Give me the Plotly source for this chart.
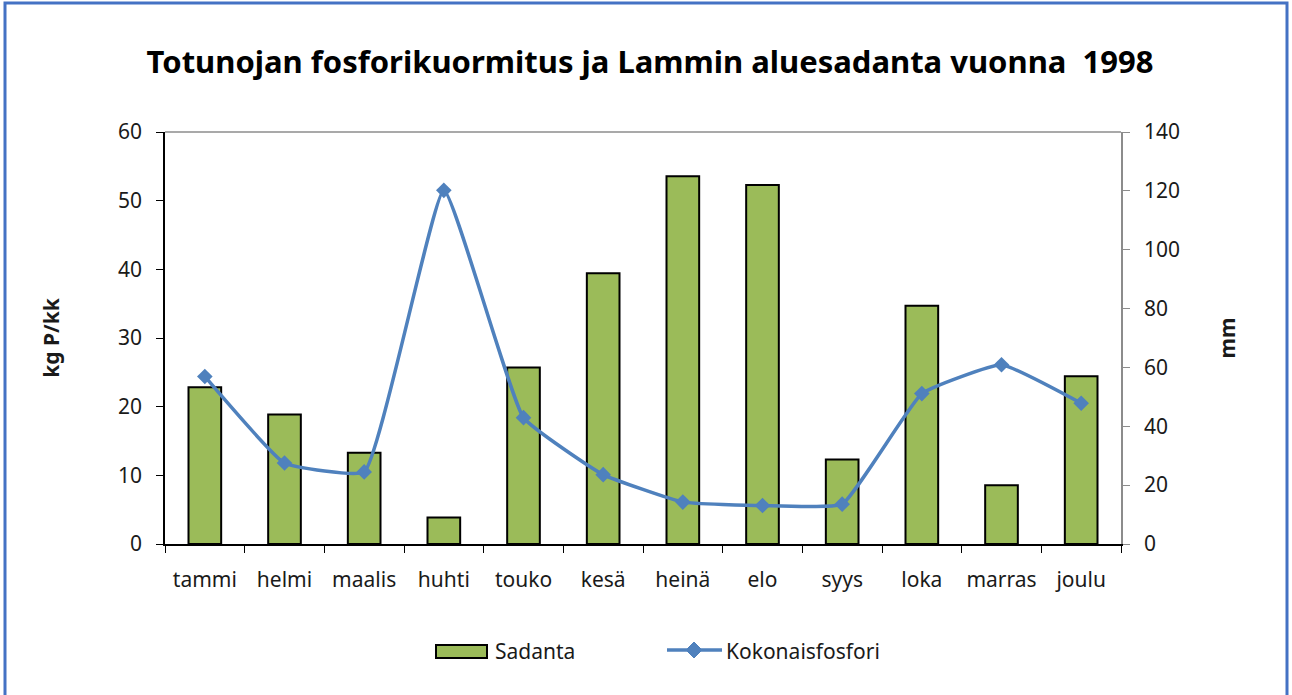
import plotly.graph_objects as go

# data
months = ["tammi", "helmi", "maalis", "huhti", "touko", "kesä",
          "heinä", "elo", "syys", "loka", "marras", "joulu"]
sadanta_mm = [53.3, 44, 31, 9, 60, 92, 125, 122, 28.7, 81, 20, 57]
fosfori_kg = [24.4, 11.8, 10.5, 51.5, 18.4, 10.1, 6.1, 5.6, 5.8, 21.9, 26.1, 20.5]

W, H = 1292, 695
L, R, T, B = 165, 1121, 132, 544
pw, ph = R - L, B - T

def px(x):
    return (x - L) / pw

def py(y):
    return (B - y) / ph

FONT = "Noto Sans"
BLUE = "#4F81BD"
GREEN = "#9BBB59"

fig = go.Figure()

# bars on the (right hand) mm axis, drawn first so the line sits on top
fig.add_trace(go.Bar(x=months, y=sadanta_mm, name="Sadanta", yaxis="y",
                     marker=dict(color=GREEN, line=dict(color="black", width=2)),
                     width=0.41, showlegend=False))

fig.add_trace(go.Scatter(x=months, y=fosfori_kg, name="Kokonaisfosfori", yaxis="y2",
                         mode="lines+markers",
                         line=dict(color=BLUE, width=3.5, shape="spline", smoothing=0.35),
                         marker=dict(symbol="diamond", size=12, color=BLUE),
                         showlegend=False))

fig.update_layout(
    width=W, height=H,
    margin=dict(l=L, r=W - R, t=T, b=H - B, autoexpand=False),
    paper_bgcolor="white", plot_bgcolor="white",
    font=dict(family=FONT, size=21, color="#1a1a1a"),
    title=dict(text="<b>Totunojan fosforikuormitus ja Lammin aluesadanta vuonna  1998</b>",
               x=px(650), xref="paper", xanchor="center", y=1 - 62 / H, yanchor="middle",
               font=dict(family=FONT, size=31, color="black")),
    xaxis=dict(type="category", range=[-0.5, len(months) - 0.5],
               showline=True, linecolor="black", linewidth=1.5,
               ticks="outside", tickson="boundaries", ticklen=7, tickcolor="black",
               ticklabelstandoff=16,
               tickangle=0, tickfont=dict(size=21), showgrid=False, zeroline=False),
    yaxis=dict(side="right", range=[0, 140], dtick=20, showgrid=False, zeroline=False,
               showline=True, linecolor="#8c8c8c", linewidth=1.5, ticks="outside",
               ticklen=7, tickcolor="#8c8c8c", tickfont=dict(size=21), ticklabelstandoff=10,
               title=dict(text="<b>mm</b>", font=dict(size=21), standoff=41)),
    yaxis2=dict(side="left", overlaying="y", range=[0, 60], dtick=10, showgrid=False,
                zeroline=False, showline=True, linecolor="black", linewidth=1.5,
                ticks="outside", ticklen=7, tickcolor="black", tickfont=dict(size=21),
                ticklabelstandoff=10,
                title=dict(text="<b>kg P/kk</b>", font=dict(size=21), standoff=53)),
)

# top edge of the plot area
fig.add_shape(type="line", xref="paper", yref="paper", x0=0, x1=1, y0=1, y1=1,
              line=dict(color="#8c8c8c", width=1.5))

# legend drawn by hand so the symbols match the reference
fig.add_shape(type="rect", xref="paper", yref="paper",
              x0=px(436), x1=px(487), y0=py(658), y1=py(645),
              line=dict(color="black", width=2), fillcolor=GREEN)
fig.add_annotation(text="Sadanta", xref="paper", yref="paper", x=px(493), y=py(651),
                   xanchor="left", yanchor="middle", showarrow=False, font=dict(size=21))
fig.add_shape(type="line", xref="paper", yref="paper",
              x0=px(667), x1=px(722), y0=py(650), y1=py(650),
              line=dict(color=BLUE, width=3.5))
cx, cy, d = 694, 650, 8
fig.add_shape(type="path", xref="paper", yref="paper",
              path=f"M {px(cx - d)} {py(cy)} L {px(cx)} {py(cy - d)} L {px(cx + d)} {py(cy)} L {px(cx)} {py(cy + d)} Z",
              line=dict(color=BLUE, width=1), fillcolor=BLUE)
fig.add_annotation(text="Kokonaisfosfori", xref="paper", yref="paper", x=px(724), y=py(651),
                   xanchor="left", yanchor="middle", showarrow=False, font=dict(size=21))

# blue frame around the chart
fig.add_shape(type="rect", xref="paper", yref="paper",
              x0=px(5), x1=px(1287), y0=py(720), y1=py(3),
              line=dict(color="#4472C4", width=3), fillcolor="rgba(0,0,0,0)", layer="below")

fig.write_html("out.html", config={"displayModeBar": False},
               post_script="document.body.style.margin='0px';")
